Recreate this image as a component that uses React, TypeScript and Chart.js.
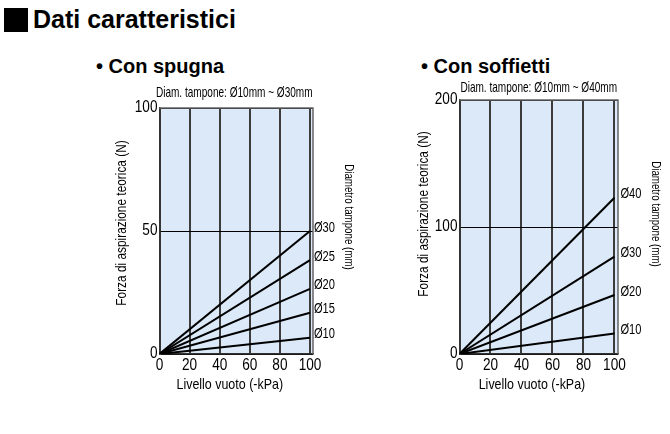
import React, { useEffect, useRef } from "react";
import { Chart, registerables } from "chart.js";

Chart.register(...registerables);

// ---------- Data ----------
const xTickValues = [0, 20, 40, 60, 80, 100]; // Livello vuoto (-kPa)
const vacuumLevels = [0, 100];

// Con spugna (Ø10 ~ Ø30) – theoretical suction force (N) at 0 and 100 kPa
const spongeLabels = ["Ø10", "Ø15", "Ø20", "Ø25", "Ø30"];
const sponge10 = [0, 6.6];
const sponge15 = [0, 16.8];
const sponge20 = [0, 26.5];
const sponge25 = [0, 38.2];
const sponge30 = [0, 50];
const spongeYTicks = [0, 50, 100];

// Con soffietti (Ø10 ~ Ø40)
const bellowsLabels = ["Ø10", "Ø20", "Ø30", "Ø40"];
const bellows10 = [0, 16.2];
const bellows20 = [0, 46.5];
const bellows30 = [0, 76.6];
const bellows40 = [0, 123];
const bellowsYTicks = [0, 100, 200];

// ---------- Styling ----------
const SANS = '"Liberation Sans", Arial, Helvetica, sans-serif';
const PLOT_BG = "#dbe9f8";

type TextOpts = {
  size: number;
  align?: CanvasTextAlign;
  baseline?: CanvasTextBaseline;
  rotate?: number;
  sx?: number;
};

function drawText(ctx: CanvasRenderingContext2D, text: string, x: number, y: number, o: TextOpts) {
  ctx.save();
  ctx.translate(x, y);
  if (o.rotate) ctx.rotate(o.rotate);
  ctx.scale(o.sx ?? 1, 1);
  ctx.font = `${o.size}px ${SANS}`;
  ctx.textAlign = o.align ?? "center";
  ctx.textBaseline = o.baseline ?? "middle";
  ctx.fillStyle = "#000";
  ctx.fillText(text, 0, 0);
  ctx.restore();
}

type Panel = {
  left: number;
  top: number;
  width: number;
  height: number;
  padding: { left: number; top: number; right: number; bottom: number };
  xMax: number;
  yTicks: number[];
  labels: string[];
  series: number[][];
  subtitle: string;
  subtitleDx: number;
  subtitleDy: number;
  yTitleDx: number;
  yTitleDy: number;
  rTitleDx: number;
  rTitleDy: number;
  labelDx: number;
};

const panels: Panel[] = [
  {
    left: 100,
    top: 70,
    width: 270,
    height: 330,
    padding: { left: 59.5, top: 38, right: 57, bottom: 46 },
    xMax: 102,
    yTicks: spongeYTicks,
    labels: spongeLabels,
    series: [sponge10, sponge15, sponge20, sponge25, sponge30],
    subtitle: "Diam. tampone: Ø10mm ~ Ø30mm",
    subtitleDx: -2,
    subtitleDy: -15,
    yTitleDx: -38,
    yTitleDy: 115,
    rTitleDx: 35,
    rTitleDy: 109,
    labelDx: 4,
  },
  {
    left: 400,
    top: 70,
    width: 270,
    height: 330,
    padding: { left: 59.5, top: 30, right: 52, bottom: 46 },
    xMax: 102.3,
    yTicks: bellowsYTicks,
    labels: bellowsLabels,
    series: [bellows10, bellows20, bellows30, bellows40],
    subtitle: "Diam. tampone: Ø10mm ~ Ø40mm",
    subtitleDx: 0,
    subtitleDy: -12,
    yTitleDx: -36,
    yTitleDy: 114,
    rTitleDx: 37,
    rTitleDy: 114,
    labelDx: 6,
  },
];

function PanelChart({ p }: { p: Panel }) {
  const ref = useRef<HTMLCanvasElement | null>(null);

  useEffect(() => {
    if (!ref.current) return;
    const yMax = p.yTicks[p.yTicks.length - 1];

    const decor = {
      id: "decor",
      beforeDraw(chart: any) {
        const { ctx, chartArea: a } = chart;
        ctx.save();
        ctx.fillStyle = PLOT_BG;
        ctx.fillRect(a.left, a.top, a.right - a.left, a.bottom - a.top);
        ctx.restore();
      },
      afterDraw(chart: any) {
        const { ctx, chartArea: a } = chart;
        const xs = chart.scales.x;
        const ys = chart.scales.y;
        // frame (top & right edges)
        ctx.save();
        ctx.strokeStyle = "#666";
        ctx.lineWidth = 1.5;
        ctx.beginPath();
        ctx.moveTo(a.left, a.top);
        ctx.lineTo(a.right, a.top);
        ctx.lineTo(a.right, a.bottom);
        ctx.stroke();
        ctx.restore();

        // tick labels from the scales
        xs.ticks.forEach((t: any) => {
          drawText(ctx, String(t.value), xs.getPixelForValue(t.value), a.bottom + 16, {
            size: 16,
            baseline: "alphabetic",
            sx: 0.85,
          });
        });
        ys.ticks.forEach((t: any) => {
          drawText(ctx, String(t.value), a.left - 2, ys.getPixelForValue(t.value), {
            size: 16,
            align: "right",
            sx: 0.85,
          });
        });

        // diameter labels at line ends
        chart.data.datasets.forEach((ds: any, i: number) => {
          const meta = chart.getDatasetMeta(i);
          const pt = meta.data[meta.data.length - 1];
          drawText(ctx, ds.label, pt.x + p.labelDx, pt.y - 3.5, {
            size: 15,
            align: "left",
            sx: 0.74,
          });
        });

        const cx = (a.left + a.right) / 2;
        // subtitle
        drawText(ctx, p.subtitle, cx + p.subtitleDx, a.top + p.subtitleDy, {
          size: 15,
          sx: 0.67,
        });
        // y title
        drawText(ctx, "Forza di aspirazione teorica (N)", a.left + p.yTitleDx, a.top + p.yTitleDy, {
          size: 15,
          rotate: -Math.PI / 2,
          sx: 0.79,
        });
        // right title
        drawText(ctx, "Diametro tampone (mm)", a.right + p.rTitleDx, a.top + p.rTitleDy, {
          size: 12.5,
          rotate: Math.PI / 2,
          sx: 0.78,
        });
        // x title
        drawText(ctx, "Livello vuoto (-kPa)", xs.getPixelForValue(50) - 5, a.bottom + 31, {
          size: 15,
          sx: 0.83,
        });
      },
    };

    const chart = new Chart(ref.current, {
      type: "line",
      data: {
        datasets: p.series.map((s, i) => ({
          label: p.labels[i],
          data: s.map((v, j) => ({ x: vacuumLevels[j], y: v })),
          borderColor: "#000",
          borderWidth: 2,
          pointRadius: 0,
          fill: false,
          tension: 0,
        })),
      },
      options: {
        animation: false,
        responsive: false,
        devicePixelRatio: 1,
        layout: { padding: p.padding },
        plugins: {
          legend: { display: false },
          tooltip: { enabled: false },
          title: { display: false },
        },
        scales: {
          x: {
            type: "linear",
            min: 0,
            max: p.xMax,
            afterFit: (s: any) => {
              s.height = 0;
            },
            afterBuildTicks: (s: any) => {
              s.ticks = xTickValues.map((v) => ({ value: v }));
            },
            ticks: { display: false },
            grid: {
              color: "#3c3c3c",
              lineWidth: 2,
              drawTicks: false,
            },
            border: { display: true, color: "#333", width: 1.5 },
          },
          y: {
            type: "linear",
            min: 0,
            max: yMax,
            afterFit: (s: any) => {
              s.width = 0;
            },
            afterBuildTicks: (s: any) => {
              s.ticks = p.yTicks.map((v) => ({ value: v }));
            },
            ticks: { display: false },
            grid: {
              color: "#000",
              lineWidth: 1,
              drawTicks: false,
            },
            border: { display: true, color: "#333", width: 1.5 },
          },
        },
      },
      plugins: [decor],
    } as any);

    return () => chart.destroy();
  }, [p]);

  return (
    <canvas
      ref={ref}
      width={p.width}
      height={p.height}
      style={{
        position: "absolute",
        left: p.left,
        top: p.top,
        width: p.width,
        height: p.height,
      }}
    />
  );
}

export default function App() {
  return (
    <div
      style={{
        position: "fixed",
        left: 0,
        top: 0,
        width: 670,
        height: 434,
        background: "#fff",
        overflow: "hidden",
      }}
    >
      <div
        style={{
          position: "absolute",
          left: 4,
          top: 8,
          width: 24,
          height: 24,
          background: "#000",
        }}
      />
      <div
        style={{
          position: "absolute",
          left: 33,
          top: 7,
          font: `bold 25px ${SANS}`,
          lineHeight: 1,
          whiteSpace: "nowrap",
          color: "#000",
        }}
      >
        Dati caratteristici
      </div>
      <div
        style={{
          position: "absolute",
          left: 96,
          top: 56,
          font: `bold 20px ${SANS}`,
          lineHeight: 1,
          whiteSpace: "nowrap",
          color: "#000",
        }}
      >
        • Con spugna
      </div>
      <div
        style={{
          position: "absolute",
          left: 421,
          top: 56,
          font: `bold 20px ${SANS}`,
          lineHeight: 1,
          whiteSpace: "nowrap",
          color: "#000",
        }}
      >
        • Con soffietti
      </div>
      {panels.map((p, i) => (
        <PanelChart key={i} p={p} />
      ))}
    </div>
  );
}
